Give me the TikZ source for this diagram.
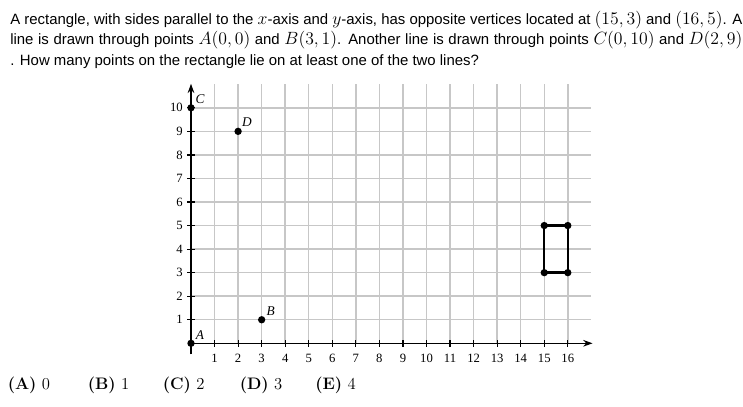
\documentclass[tikz,border=0pt]{standalone}
\usepackage{graphicx}
\usepackage[no-math]{fontspec}
\newfontfamily\qfont{Liberation Sans}
\newfontfamily\graphfont{Liberation Serif}
\usetikzlibrary{arrows.meta}
\newcommand{\mq}[1]{{\fontsize{12pt}{14pt}\selectfont\scalebox{1.108}{$#1$}}}
\tikzset{
  qline/.style={anchor=base west, inner sep=0pt, font=\qfont\fontsize{11.2pt}{13pt}\selectfont},
  ansline/.style={anchor=base west, inner sep=0pt, font=\rmfamily\fontsize{12.5pt}{14pt}\selectfont},
  gridline/.style={draw=black!22, line width=1.1pt},
  axisline/.style={draw=black, line width=1pt},
  tickmark/.style={draw=black, line width=0.9pt},
  ticklabel/.style={inner sep=0pt, font=\graphfont\fontsize{9.5pt}{11pt}\selectfont},
  ptlabel/.style={inner sep=0pt, font=\graphfont\itshape\fontsize{10pt}{12pt}\selectfont},
  dot/.style={circle, fill=black, inner sep=0pt, minimum size=5.5pt},
  rectside/.style={draw=black, line width=1.8pt},
}
\begin{document}
\begin{tikzpicture}[x=0.75pt,y=-0.75pt]
\useasboundingbox (0,0) rectangle (743,407);
% question text
\node[qline] (q1) at (10,24) {\hbox to 549pt{A rectangle, with sides parallel to the \mq{x}-axis and \mq{y}-axis, has opposite vertices located at \mq{(15,3)} and \mq{(16,5)}. A}};
\node[qline] (q2) at (10,44.5) {\hbox to 549pt{line is drawn through points \mq{A(0,0)} and \mq{B(3,1)}. Another line is drawn through points \mq{C(0,10)} and \mq{D(2,9)}}};
\node[qline] (q3) at (10,65.5) {. How many points on the rectangle lie on at least one of the two lines?};
% graph
\begin{scope}[shift={(143.25pt,-257.475pt)}, x=17.6625pt, y=17.6625pt]
  \foreach \i in {1,...,16} \draw[gridline] (\i,0) -- (\i,11);
  \foreach \j in {1,...,10} \draw[gridline] (0,\j) -- (17,\j);
  \draw[axisline,-{Stealth[length=7pt,width=5pt]}] (-0.13,0) -- (17.05,0);
  \draw[axisline,-{Stealth[length=7pt,width=5pt]}] (0,-0.47) -- (0,11.02);
  \foreach \i in {1,...,16} {
    \draw[tickmark] (\i,-0.15) -- (\i,0.15);
    \node[ticklabel] (xl\i) at (\i,-0.64) {\i};
  }
  \foreach \j in {1,...,10} {
    \draw[tickmark] (-0.15,\j) -- (0.15,\j);
    \node[ticklabel, anchor=east] (yl\j) at (-0.34,\j) {\j};
  }
  \node[dot] (A) at (0,0) {};
  \node[dot] (B) at (3,1) {};
  \node[dot] (C) at (0,10) {};
  \node[dot] (D) at (2,9) {};
  \node[ptlabel] (Al) at (0.38,0.34) {A};
  \node[ptlabel] (Bl) at (3.38,1.38) {B};
  \node[ptlabel] (Cl) at (0.38,10.36) {C};
  \node[ptlabel] (Dl) at (2.38,9.41) {D};
  \coordinate (r1) at (15,3);
  \coordinate (r2) at (16,3);
  \coordinate (r3) at (16,5);
  \coordinate (r4) at (15,5);
  \draw[rectside] (r1) -- (r2) -- (r3) -- (r4) -- cycle;
  \node[dot] (R1) at (r1) {};
  \node[dot] (R2) at (r2) {};
  \node[dot] (R3) at (r3) {};
  \node[dot] (R4) at (r4) {};
\end{scope}
% answer choices
\node[ansline] (ansA) at (7.5,389) {\textbf{(A)} 0};
\node[ansline] (ansB) at (87.5,389) {\textbf{(B)} 1};
\node[ansline] (ansC) at (162.5,389) {\textbf{(C)} 2};
\node[ansline] (ansD) at (239.5,389) {\textbf{(D)} 3};
\node[ansline] (ansE) at (315,389) {\textbf{(E)} 4};
\end{tikzpicture}
\end{document}
